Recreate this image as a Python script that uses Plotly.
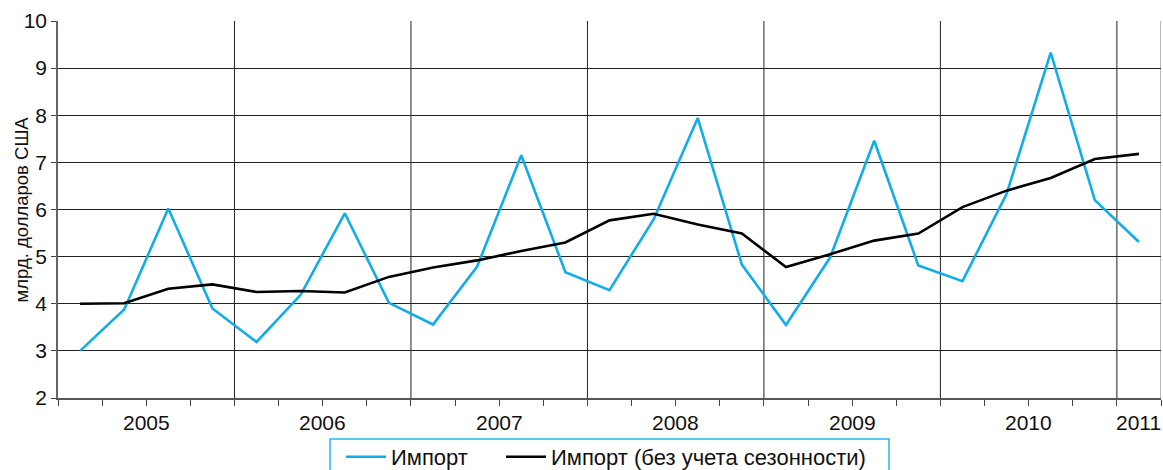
import plotly.graph_objects as go

quarters = ["2005Q1","2005Q2","2005Q3","2005Q4","2006Q1","2006Q2","2006Q3","2006Q4",
            "2007Q1","2007Q2","2007Q3","2007Q4","2008Q1","2008Q2","2008Q3","2008Q4",
            "2009Q1","2009Q2","2009Q3","2009Q4","2010Q1","2010Q2","2010Q3","2010Q4","2011Q1"]
imports = [3.00, 3.88, 6.02, 3.90, 3.19, 4.19, 5.92, 4.02, 3.56, 4.79, 7.15, 4.67, 4.29,
           5.79, 7.94, 4.83, 3.55, 4.98, 7.46, 4.81, 4.48, 6.33, 9.33, 6.20, 5.31]
imports_sa = [4.00, 4.01, 4.32, 4.41, 4.25, 4.27, 4.24, 4.57, 4.77, 4.92, 5.12, 5.30, 5.77,
              5.91, 5.68, 5.49, 4.78, 5.05, 5.34, 5.49, 6.05, 6.40, 6.67, 7.07, 7.18]
years = ["2005", "2006", "2007", "2008", "2009", "2010", "2011"]
y_title = "млрд. долларов США"

xpos = [i + 0.5 for i in range(len(quarters))]
FONT = "Liberation Sans, Arial, sans-serif"

W, H = 1163, 470
L, R, T, B = 58, 2, 21, 72
PW, PH = W - L - R, H - T - B


def px_x(px):
    return (px - L) / PW


def px_y(py):
    return (H - B - py) / PH


fig = go.Figure()
fig.add_trace(go.Scatter(x=xpos, y=imports, mode="lines", name="Импорт", legend="legend",
                         line=dict(color="#12ade8", width=2.6), customdata=quarters))
fig.add_trace(go.Scatter(x=xpos, y=imports_sa, mode="lines", name="Импорт (без учета сезонности)",
                         legend="legend2", line=dict(color="#000000", width=2.6), customdata=quarters))

n = len(quarters)
boundaries = list(range(0, n + 1, 4))
for b in boundaries[1:] + [n]:
    fig.add_shape(type="line", xref="x", yref="paper", x0=b, x1=b, y0=0, y1=1,
                  line=dict(color="#222222" if b != n else "#777777", width=1), layer="below")
for i, yr in enumerate(years):
    start = i * 4
    end = min(start + 4, n)
    fig.add_annotation(x=(start + end) / 2, y=0, xref="x", yref="paper", text=yr,
                       showarrow=False, yanchor="middle", yshift=-24,
                       font=dict(size=21, color="#111111", family=FONT))

# y-axis title
fig.add_annotation(x=px_x(21), y=0.5, xref="paper", yref="paper", text=y_title,
                   textangle=-90, showarrow=False, xanchor="center", yanchor="middle",
                   font=dict(size=18.5, color="#111111", family=FONT))

# legend frame (bottom edge is cut off by the page, as in the reference)
fig.add_shape(type="rect", xref="paper", yref="paper",
              x0=px_x(330), x1=px_x(889), y0=px_y(485), y1=px_y(439),
              line=dict(color="#29b6ea", width=1.5), fillcolor="rgba(0,0,0,0)")

leg_common = dict(orientation="h", xanchor="left", yanchor="top", borderwidth=0,
                  bgcolor="rgba(0,0,0,0)", font=dict(size=22, family=FONT, color="#111111"),
                  itemwidth=40)
fig.update_layout(
    width=W, height=H,
    margin=dict(l=L, r=R, t=T, b=B, autoexpand=False),
    paper_bgcolor="white", plot_bgcolor="white",
    font=dict(family=FONT, size=21, color="#111111"),
    showlegend=True,
    legend=dict(x=px_x(341), y=px_y(436), **leg_common),
    legend2=dict(x=px_x(501), y=px_y(436), **leg_common),
)
fig.update_xaxes(range=[0, n], tickvals=boundaries, ticktext=[""] * len(boundaries),
                 showgrid=False, ticks="outside", ticklen=6, tickcolor="#444444",
                 showline=True, linecolor="#555555", linewidth=1.5, zeroline=False,
                 automargin=False,
                 minor=dict(dtick=1, tick0=0, ticks="outside", ticklen=6, tickcolor="#444444"))
fig.update_yaxes(range=[2, 10], dtick=1, showgrid=True, gridcolor="#222222", gridwidth=1,
                 ticks="outside", ticklen=5, tickcolor="#444444", showline=True,
                 linecolor="#666666", linewidth=1.5, zeroline=False, mirror=False,
                 automargin=False, tickfont=dict(size=21))

post = ("document.documentElement.style.overflow='hidden';"
        "document.body.style.margin='0';document.body.style.overflow='hidden';")
fig.write_html("out.html", config={"displayModeBar": False}, post_script=post)
